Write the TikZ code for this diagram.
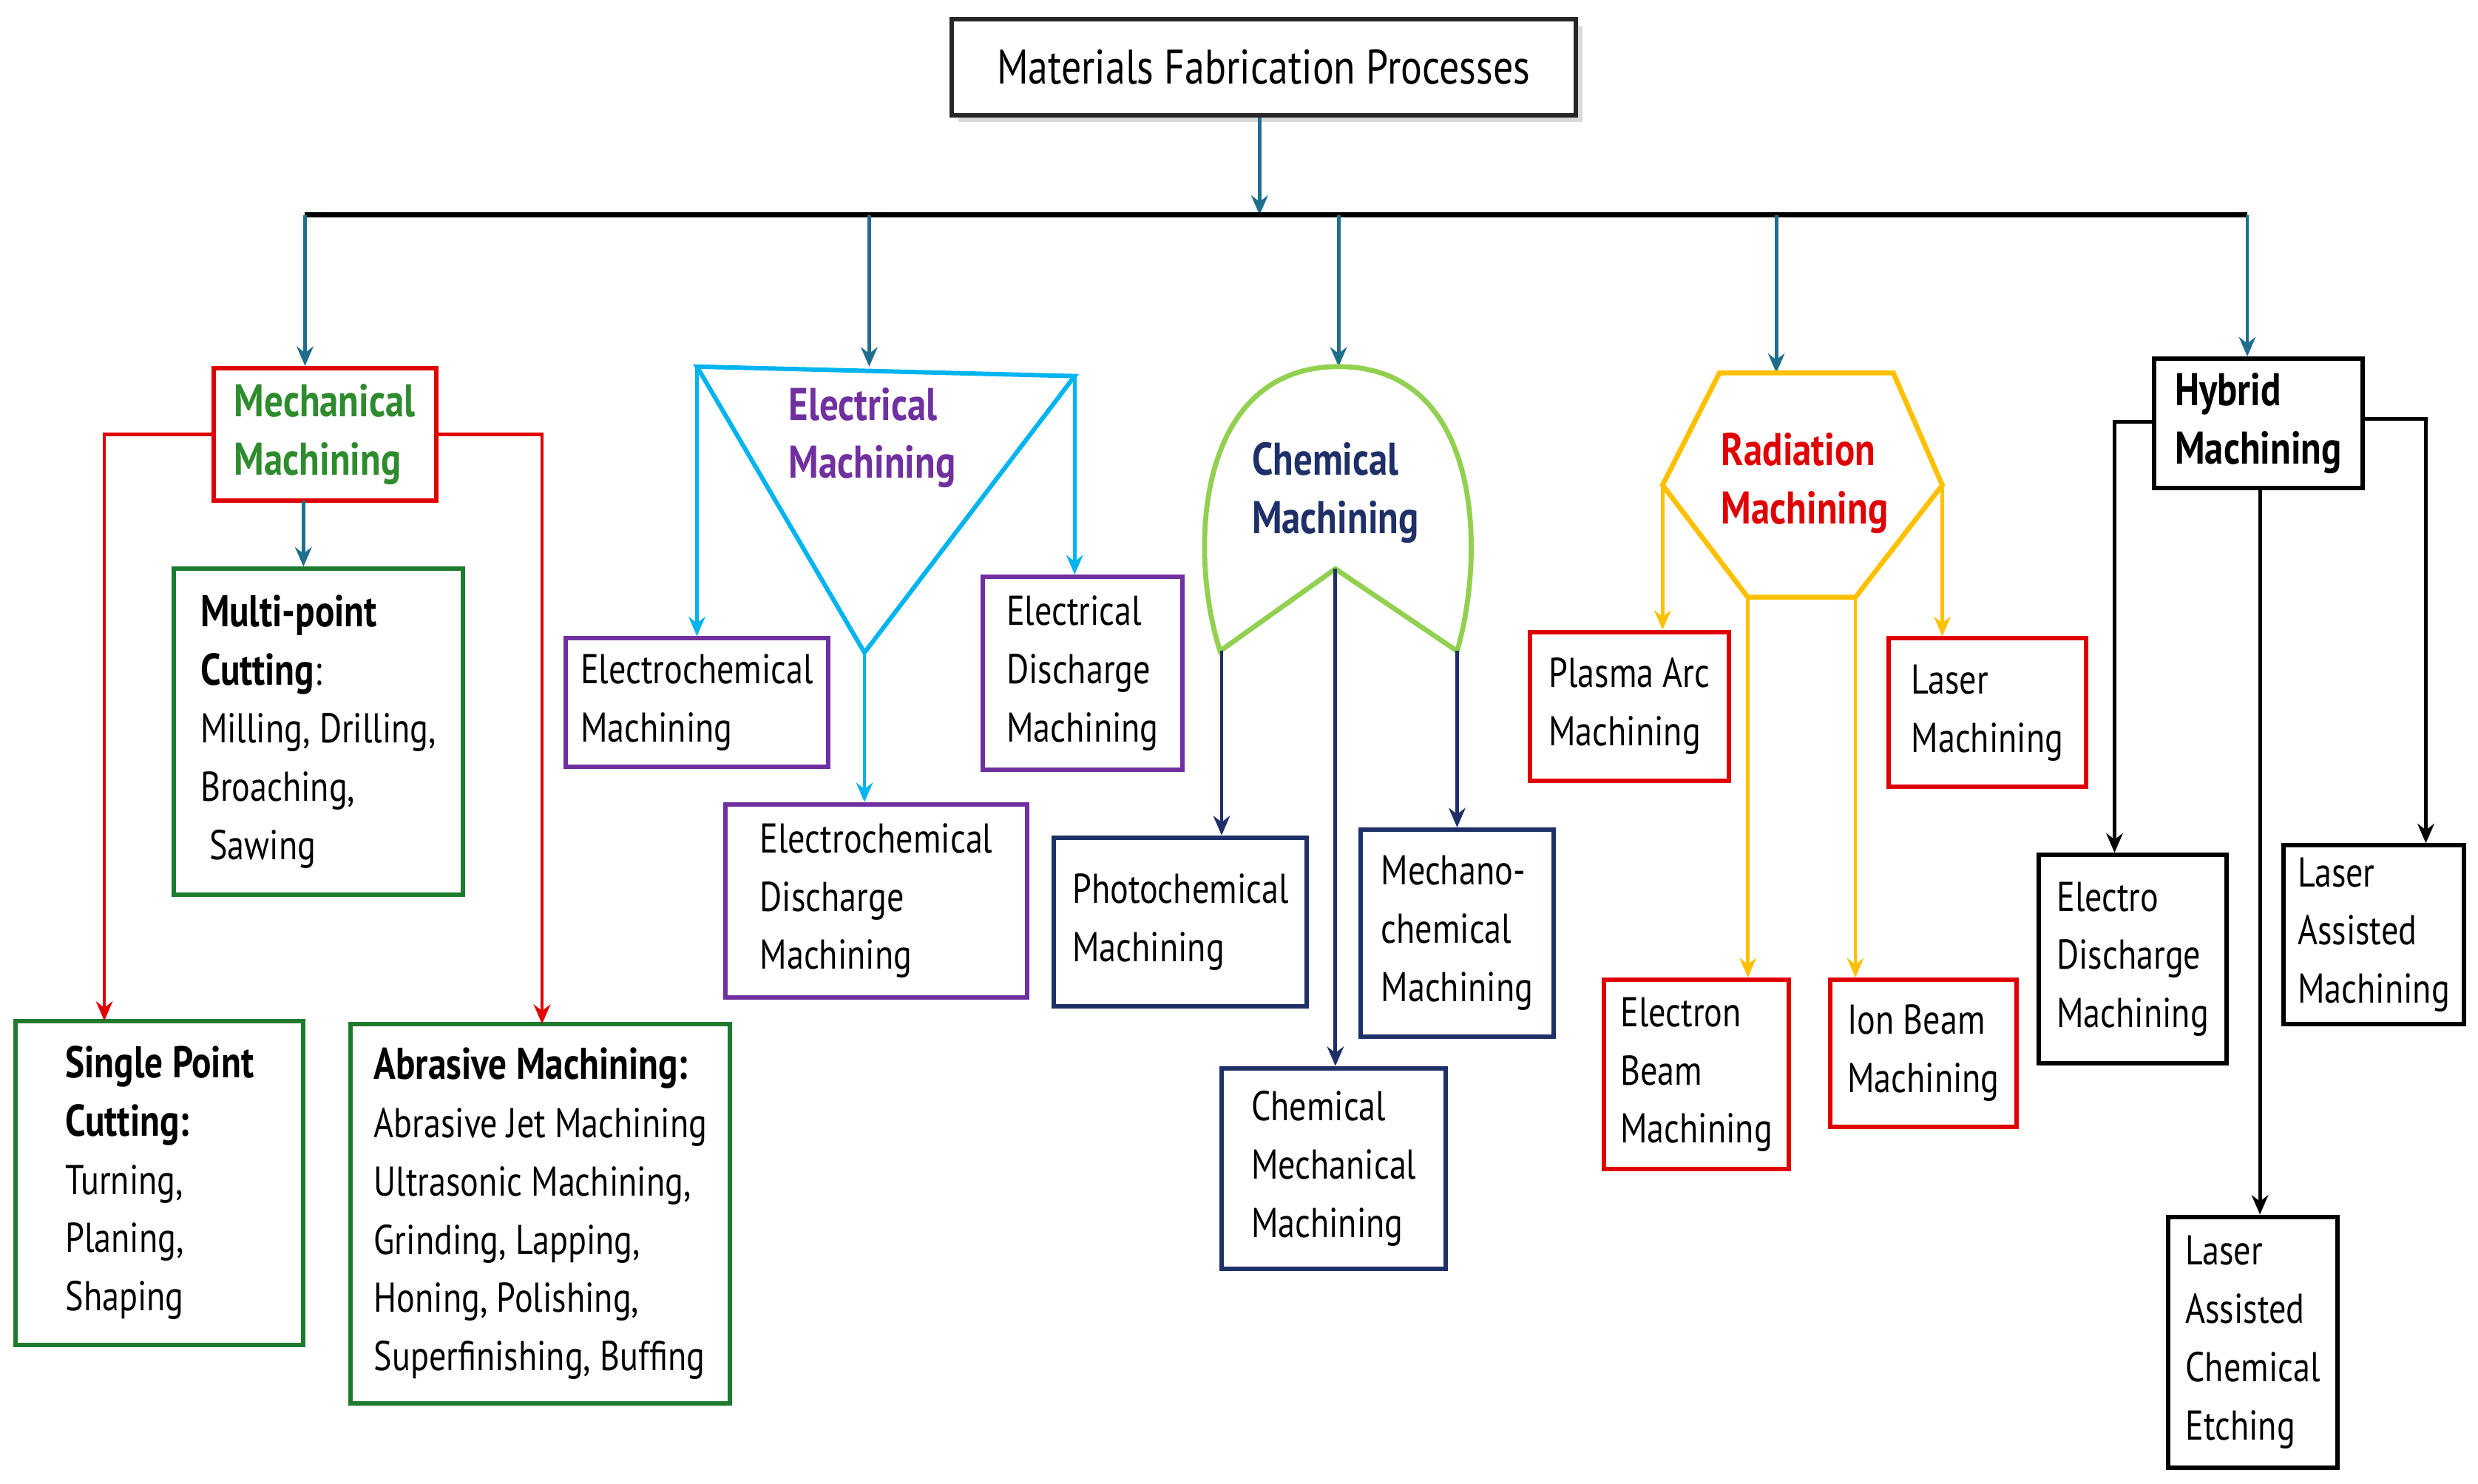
\documentclass[tikz,border=0pt]{standalone}
\usepackage{fontspec}
\setmainfont{PT Sans}[FakeStretch=0.82]
\usetikzlibrary{arrows.meta,shadows}
\definecolor{teal}{HTML}{1F6E8C}
\definecolor{mgreen}{HTML}{1E7B2E}
\definecolor{tgreen}{HTML}{2E8B2E}
\definecolor{navy}{HTML}{1F3068}
\definecolor{purp}{HTML}{7030A0}
\definecolor{cyanb}{HTML}{00B4F0}
\definecolor{lgreen}{HTML}{92D050}
\definecolor{yel}{HTML}{FFC000}
\definecolor{rred}{HTML}{E00000}
\tikzset{
 box/.style={draw,line width=1.6pt,inner sep=0pt,align=left,font=\fontsize{15}{21}\selectfont},
 arr/.style={line width=1.3pt,-{Stealth[length=7pt,width=6pt]}},
 ttl/.style={font=\fontsize{16.5}{21}\selectfont\bfseries,align=left}
}
\newcommand\bx[7]{\node[box,draw=#6,minimum width={(#4-#2)*0.02cm},minimum height={(#5-#3)*0.02cm}] (#1) at ({(#2+#4)/2},{(#3+#5)/2}) {#7};}
\begin{document}
\begin{tikzpicture}[x=0.02cm,y=-0.02cm]
\useasboundingbox (0,0) rectangle (1568,939);
% title
\node[box,draw=black!85,fill=white,drop shadow={opacity=0.3},minimum width=395*0.02cm,minimum height=61*0.02cm,font=\fontsize{17.5}{21}\selectfont] (top) at (799.5,42.5) {Materials Fabrication Processes};
\coordinate (b0) at (797,136);
\draw[arr,teal] (top.south -| b0) -- (b0);
\coordinate (bL) at (193,136); \coordinate (bR) at (1422,136);
\draw[line width=1.8pt] (bL) -- (bR);
% mechanical
\bx{mech}{135}{233}{276}{317}{rred}{\textcolor{tgreen}{\fontsize{16.5}{21}\selectfont\bfseries Mechanical}\\\textcolor{tgreen}{\fontsize{16.5}{21}\selectfont\bfseries Machining}}
\draw[arr,teal] (193,136) -- (mech.north -| 193,0);
\bx{multi}{110}{360}{293}{566}{mgreen}{\textbf{\fontsize{16}{21}\selectfont Multi-point}\\\textbf{\fontsize{16}{21}\selectfont Cutting}:\\Milling, Drilling,\\Broaching,\\\ Sawing}
\bx{single}{10}{646}{192}{851}{mgreen}{\textbf{\fontsize{16}{21}\selectfont Single Point}\\\textbf{\fontsize{16}{21}\selectfont Cutting:}\\Turning,\\Planing,\\Shaping}
\bx{abr}{222}{648}{462}{888}{mgreen}{\textbf{\fontsize{16}{21}\selectfont Abrasive Machining:}\\Abrasive Jet Machining\\Ultrasonic Machining,\\Grinding, Lapping,\\Honing, Polishing,\\Superfinishing, Buffing}
\draw[arr,teal] (192,317) -- (multi.north -| 192,0);
\draw[arr,rred] (mech.west) -| (66,646);
\draw[arr,rred] (mech.east) -| (343,648);
% electrical
\coordinate (e1) at (441,232); \coordinate (e2) at (680,238); \coordinate (e3) at (547,413);
\draw[arr,teal] (550,136) -- (550,232);
\draw[cyanb,line width=1.6pt] (e1) -- (e2) -- (e3) -- cycle;
\node[ttl,text=purp,align=left] (elt) at (552,277) {Electrical\\Machining};
\bx{ecm}{358}{404}{524}{485}{purp}{Electrochemical\\Machining}
\bx{edm}{622}{365}{748}{487}{purp}{Electrical\\Discharge\\Machining}
\bx{ecdm}{459}{509}{650}{631}{purp}{Electrochemical\\Discharge\\Machining}
\draw[arr,cyanb] (e1) -- (ecm.north -| e1);
\draw[arr,cyanb] (e2) -- (edm.north -| e2);
\draw[arr,cyanb] (e3) -- (ecdm.north -| e3);
% chemical
\draw[arr,teal] (847,136) -- (847,232);
\coordinate (c1) at (772,412); \coordinate (c2) at (922,412); \coordinate (c3) at (845,360);
\draw[lgreen,line width=1.8pt] (c1) .. controls (752,350) and (756,232) .. (847,232) .. controls (938,232) and (940,350) .. (c2) -- (c3) -- cycle;
\node[ttl,text=navy,align=left] (cht) at (845,312) {Chemical\\Machining};
\bx{pcm}{667}{530}{827}{637}{navy}{Photochemical\\Machining}
\bx{mcm}{861}{525}{983}{656}{navy}{Mechano-\\chemical\\Machining}
\bx{cmm}{773}{676}{915}{803}{navy}{Chemical\\Mechanical\\Machining}
\draw[arr,navy] (773,412) -- (pcm.north -| 773,0);
\draw[arr,navy] (922,412) -- (mcm.north -| 922,0);
\draw[arr,navy] (c3) -- (cmm.north -| c3);
% radiation
\draw[arr,teal] (1124,136) -- (1124,236);
\coordinate (h1) at (1052,307); \coordinate (h4) at (1229,307);
\coordinate (h5) at (1174,378); \coordinate (h6) at (1106,378);
\draw[yel,line width=1.8pt] (h1) -- (1088,236) -- (1198,236) -- (h4) -- (h5) -- (h6) -- cycle;
\node[ttl,text=rred,align=left] (rat) at (1142,306) {Radiation\\Machining};
\bx{pam}{968}{400}{1094}{494}{rred}{Plasma Arc\\Machining}
\bx{lm}{1195}{404}{1320}{498}{rred}{Laser\\Machining}
\bx{ebm}{1015}{620}{1132}{740}{rred}{Electron\\Beam\\Machining}
\bx{ibm}{1158}{620}{1276}{713}{rred}{Ion Beam\\Machining}
\draw[arr,yel] (h1) -- (pam.north -| h1);
\draw[arr,yel] (h4) -- (lm.north -| h4);
\draw[arr,yel] (h6) -- (ebm.north -| h6);
\draw[arr,yel] (h5) -- (ibm.north -| h5);
% hybrid
\bx{hyb}{1363}{227}{1495}{309}{black}{\textbf{\fontsize{16.5}{21}\selectfont Hybrid}\\\textbf{\fontsize{16.5}{21}\selectfont Machining}}
\draw[arr,teal] (1422,136) -- (hyb.north -| 1422,0);
\bx{edm2}{1290}{541}{1409}{673}{black}{Electro\\Discharge\\Machining}
\bx{lam}{1445}{535}{1559}{648}{black}{Laser\\Assisted\\Machining}
\bx{lace}{1372}{770}{1479}{929}{black}{Laser\\Assisted\\Chemical\\Etching}
\draw[arr,black] (1363,267) -| (edm2.north -| 1338,0);
\draw[arr,black] (1495,265) -| (lam.north -| 1535,0);
\draw[arr,black] (1430,309) -- (lace.north -| 1430,0);
\end{tikzpicture}
\end{document}
